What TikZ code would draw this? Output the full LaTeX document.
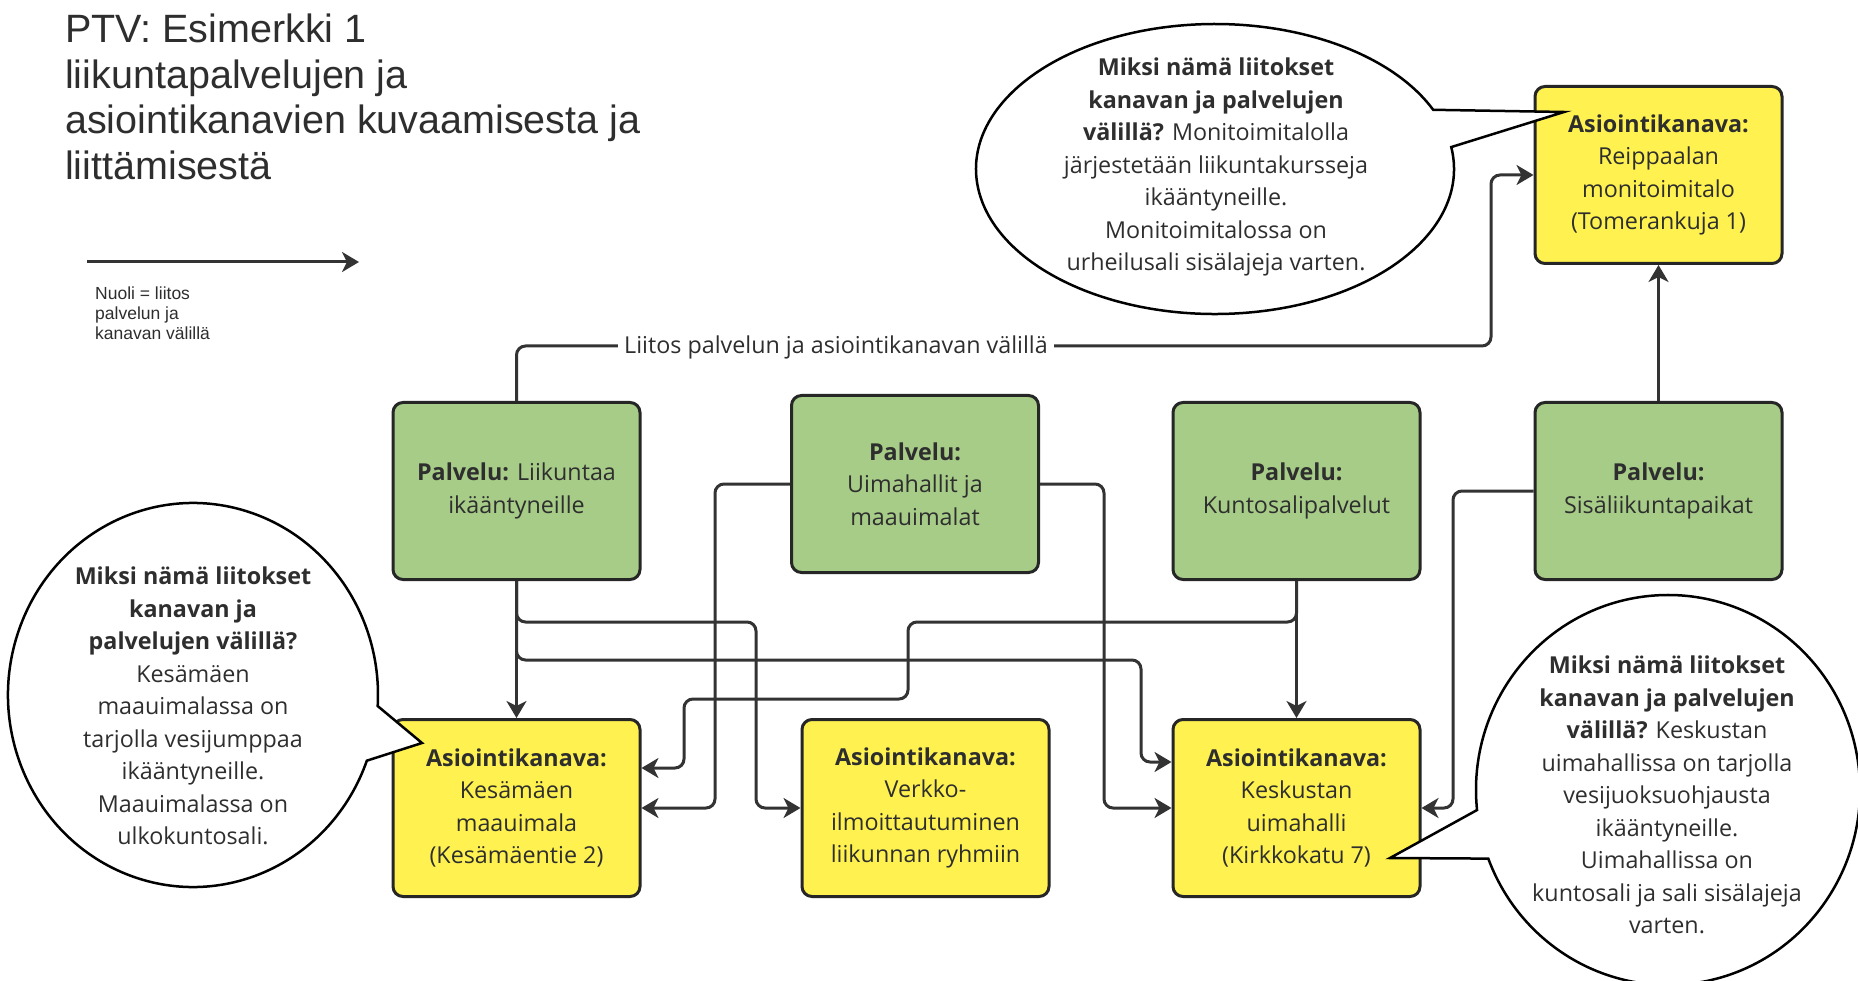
\documentclass[tikz,border=0pt]{standalone}
\usepackage{fontspec}
\setmainfont{Open Sans}
\newfontfamily\titlefont{Liberation Sans}
\usetikzlibrary{arrows.meta,calc}
\definecolor{palvelu_green}{HTML}{A6CC88}
\definecolor{kanava_yellow}{HTML}{FFF250}
\definecolor{line_grey}{HTML}{333333}
\definecolor{text_grey}{HTML}{2E2E2E}

\begin{document}
\begin{tikzpicture}[x=1pt, y=-1pt,
	box/.style={draw=black!85, line width=3pt, rounded corners=10pt, minimum width=247pt, minimum height=177pt, align=center, text=text_grey, font=\fontsize{23.3}{32.5}\selectfont},
	palvelu/.style={box, fill=palvelu_green},
	kanava/.style={box, fill=kanava_yellow},
	link/.style={line width=3pt, draw=line_grey, rounded corners=9pt, -{Stealth[length=17pt, width=20pt, inset=5pt]}},
	bubble/.style={draw=black, line width=2.5pt, fill=white},
	bubbletext/.style={align=center, text=text_grey, font=\fontsize{23.3}{32.5}\selectfont}]
	\useasboundingbox (0,0) rectangle (1858,981);
	\fill[white] (0,0) rectangle (1858,981);

	\node[anchor=north west, inner sep=0, align=left, text=text_grey, font=\titlefont\fontsize{39.5}{45.5}\selectfont] (title) at (65,14) {PTV: Esimerkki 1\\liikuntapalvelujen ja\\asiointikanavien kuvaamisesta ja\\liittämisestä};
	\coordinate (N0) at (87,262);
	\coordinate (N1) at (359,262);
	\draw[link] (N0) -- (N1);
	\node[anchor=north west, inner sep=0, align=left, text=text_grey, font=\titlefont\fontsize{17.5}{20}\selectfont] (legend) at (95,287) {Nuoli = liitos\\palvelun ja\\kanavan välillä};

	\node[palvelu] (P1) at (516.5,491) {\textbf{Palvelu:} Liikuntaa\\ikääntyneille};
	\node[palvelu] (P2) at (915,484) {\textbf{Palvelu:}\\Uimahallit ja\\maauimalat};
	\node[palvelu] (P3) at (1296.5,491) {\textbf{Palvelu:}\\Kuntosalipalvelut};
	\node[palvelu] (P4) at (1658.5,491) {\textbf{Palvelu:}\\Sisäliikuntapaikat};
	\node[kanava] (K0) at (1658.5,175) {\textbf{Asiointikanava:}\\Reippaalan\\monitoimitalo\\(Tomerankuja 1)};
	\node[kanava] (K1) at (516.5,808) {\textbf{Asiointikanava:}\\Kesämäen\\maauimala\\(Kesämäentie 2)};
	\node[kanava] (K2) at (925.5,808) {\textbf{Asiointikanava:}\\Verkko-\\ilmoittautuminen\\liikunnan ryhmiin};
	\node[kanava] (K3) at (1296.5,808) {\textbf{Asiointikanava:}\\Keskustan\\uimahalli\\(Kirkkokatu 7)};

	\draw[link] (P1.north) |- (1491,346) |- (K0.west);
	\node[fill=white, inner xsep=6pt, inner ysep=2pt, text=text_grey, font=\fontsize{23.3}{28}\selectfont] (L) at (836,347) {Liitos palvelun ja asiointikanavan välillä};
	\draw[link] (P4.north) -- (K0.south);
	\draw[link] (P1.south) -- (K1.north);
	\draw[link] (P1.south) |- (756,622) |- (K2.west);
	\draw[link] (P1.south) |- (1141,660) |- ($(K3.west)+(0,-46)$);
	\draw[link] (P2.west) -| (715,808) -- (K1.east);
	\draw[link] (P2.east) -| (1104,808) -- (K3.west);
	\draw[link] (P3.south) -- (K3.north);
	\draw[link] (P3.south) |- (908,622) |- (684,699) |- ($(K1.east)+(0,-40)$);
	\draw[link] (P4.west) -| (1453,808) -- (K3.east);

	\coordinate (WTop) at (1215,169);
	\draw[bubble] (WTop) ++(-8.7:239 and 145) arc[start angle=-8.7, end angle=335.9, x radius=239, y radius=145] -- (1564,112) -- cycle;
	\node[bubbletext] (TTop) at (1216,167) {\textbf{Miksi nämä liitokset}\\\textbf{kanavan ja palvelujen}\\\textbf{välillä?} Monitoimitalolla\\järjestetään liikuntakursseja\\ikääntyneille.\\Monitoimitalossa on\\urheilusali sisälajeja varten.};

	\coordinate (WLeft) at (193,695);
	\draw[bubble] (WLeft) ++(20:185 and 192) arc[start angle=20, end angle=363.3, x radius=185, y radius=192] -- (422,743) -- cycle;
	\node[bubbletext] (TLeft) at (193,706) {\textbf{Miksi nämä liitokset}\\\textbf{kanavan ja}\\\textbf{palvelujen välillä?}\\Kesämäen\\maauimalassa on\\tarjolla vesijumppaa\\ikääntyneille.\\Maauimalassa on\\ulkokuntosali.};

	\coordinate (WRight) at (1668,790);
	\draw[bubble] (WRight) ++(174.1:192 and 195) arc[start angle=174.1, end angle=519.4, x radius=192, y radius=195] -- (1390,858) -- cycle;
	\node[bubbletext] (TRight) at (1667,795) {\textbf{Miksi nämä liitokset}\\\textbf{kanavan ja palvelujen}\\\textbf{välillä?} Keskustan\\uimahallissa on tarjolla\\vesijuoksuohjausta\\ikääntyneille.\\Uimahallissa on\\kuntosali ja sali sisälajeja\\varten.};
\end{tikzpicture}
\end{document}
